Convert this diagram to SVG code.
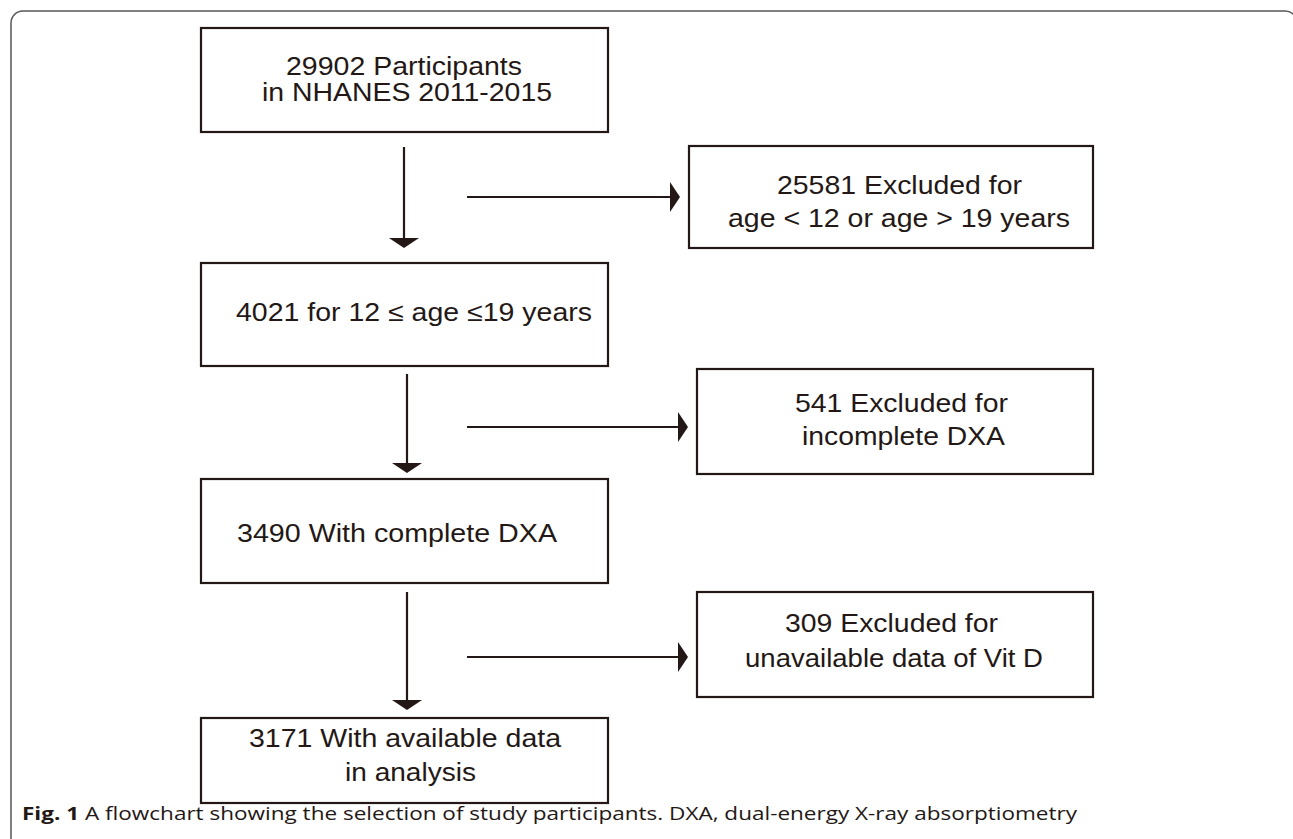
<svg xmlns="http://www.w3.org/2000/svg" width="1293" height="839" viewBox="0 0 1293 839">
<style>
.box{fill:#fff;stroke:#231815;stroke-width:2.2}
.t{font-family:"Liberation Sans",Arial,sans-serif;font-size:26px;fill:#231815}
.ln{stroke:#231815;stroke-width:2.2;fill:none}
.ah{fill:#231815}
.cap{font-family:"Open Sans","Noto Sans",sans-serif;font-size:18px;fill:#231815}
</style>
<rect width="1293" height="839" fill="#fff"/>
<rect x="11" y="11" width="1286" height="900" rx="12" fill="none" stroke="#555" stroke-width="1.5"/>
<g id="n1">
<rect class="box" x="201" y="28" width="407" height="104"/>
<text class="t" x="286" y="75" textLength="236" lengthAdjust="spacingAndGlyphs">29902 Participants</text>
<text class="t" x="262" y="101" textLength="290" lengthAdjust="spacingAndGlyphs">in NHANES 2011-2015</text>
</g>
<g id="n2">
<rect class="box" x="201" y="263" width="407" height="103"/>
<text class="t" x="236" y="321" textLength="356" lengthAdjust="spacingAndGlyphs">4021 for 12 ≤ age ≤19 years</text>
</g>
<g id="n3">
<rect class="box" x="201" y="479" width="407" height="104"/>
<text class="t" x="237" y="542" textLength="320" lengthAdjust="spacingAndGlyphs">3490 With complete DXA</text>
</g>
<g id="n4">
<rect class="box" x="201" y="718" width="407" height="85"/>
<text class="t" x="249" y="747" textLength="312" lengthAdjust="spacingAndGlyphs">3171 With available data</text>
<text class="t" x="345" y="781" textLength="131" lengthAdjust="spacingAndGlyphs">in analysis</text>
</g>
<g id="e1">
<rect class="box" x="689" y="146" width="404" height="102"/>
<text class="t" x="777" y="194" textLength="245" lengthAdjust="spacingAndGlyphs">25581 Excluded for</text>
<text class="t" x="728" y="227" textLength="342" lengthAdjust="spacingAndGlyphs">age &lt; 12 or age &gt; 19 years</text>
</g>
<g id="e2">
<rect class="box" x="697" y="369" width="396" height="105"/>
<text class="t" x="795" y="412" textLength="213" lengthAdjust="spacingAndGlyphs">541 Excluded for</text>
<text class="t" x="802" y="445" textLength="203" lengthAdjust="spacingAndGlyphs">incomplete DXA</text>
</g>
<g id="e3">
<rect class="box" x="697" y="592" width="396" height="105"/>
<text class="t" x="785" y="632" textLength="213" lengthAdjust="spacingAndGlyphs">309 Excluded for</text>
<text class="t" x="745" y="667" textLength="298" lengthAdjust="spacingAndGlyphs">unavailable data of Vit D</text>
</g>
<g id="connectors">
<line class="ln" x1="404" y1="147" x2="404" y2="240"/>
<polygon class="ah" points="389,238 419,238 404,248"/>
<line class="ln" x1="467" y1="197" x2="672" y2="197"/>
<polygon class="ah" points="670,182 670,212 680,197"/>
<line class="ln" x1="407" y1="374" x2="407" y2="465"/>
<polygon class="ah" points="392,463 422,463 407,473"/>
<line class="ln" x1="467" y1="427" x2="680" y2="427"/>
<polygon class="ah" points="678,412 678,442 688,427"/>
<line class="ln" x1="407" y1="592" x2="407" y2="702"/>
<polygon class="ah" points="392,700 422,700 407,710"/>
<line class="ln" x1="467" y1="657" x2="680" y2="657"/>
<polygon class="ah" points="678,642 678,672 688,657"/>
</g>
<text class="cap" x="22" y="820" textLength="1055" lengthAdjust="spacingAndGlyphs"><tspan font-weight="bold">Fig. 1</tspan>  A flowchart showing the selection of study participants. DXA, dual-energy X-ray absorptiometry</text>
</svg>
